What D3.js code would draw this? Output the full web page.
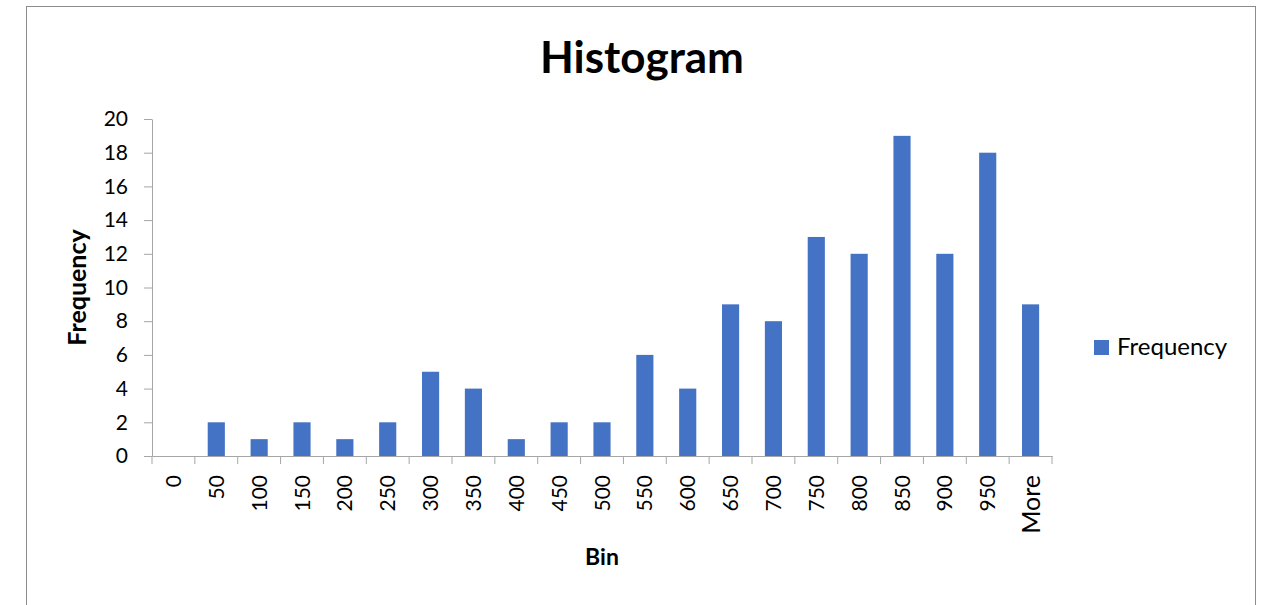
<!DOCTYPE html>
<html><head><meta charset="utf-8">
<script src="https://cdn.jsdelivr.net/npm/d3@7"></script>
<style>html,body{margin:0;padding:0;background:#fff;}</style>
</head><body>
<svg id="c" width="1270" height="605"></svg>
<script>
const categories = ["0","50","100","150","200","250","300","350","400","450","500","550","600","650","700","750","800","850","900","950","More"];
const frequency = [0,2,1,2,1,2,5,4,1,2,2,6,4,9,8,13,12,19,12,18,9];
const yTicks = [0,2,4,6,8,10,12,14,16,18,20];
const seriesName = "Frequency";
const titleText = "Histogram";
const xTitle = "Bin";
const yTitle = "Frequency";

const FONT = "Lato, 'Open Sans', sans-serif";
const BAR = "#4472C4", AXIS = "#A6A6A6";
const svg = d3.select("#c");
svg.append("rect").attr("x",26.5).attr("y",6.5).attr("width",1229).attr("height",640)
  .attr("fill","#fff").attr("stroke","#8C8C8C").attr("stroke-width",1);

const L=152, R=1052, T=119, B=456;
const x = d3.scaleBand().domain(categories).range([L,R]).paddingInner(0.6).paddingOuter(0.3);
const y = d3.scaleLinear().domain([0,20]).range([B,T]);

svg.append("text").attr("x",642).attr("y",73).attr("text-anchor","middle")
  .attr("font-family",FONT).attr("font-weight","bold").attr("font-size",44).text(titleText);

// bars
svg.append("g").selectAll("rect").data(frequency).join("rect")
  .attr("x",(d,i)=>x(categories[i])).attr("width",x.bandwidth())
  .attr("y",d=>y(d)).attr("height",d=>B-y(d)).attr("fill",BAR);

// y axis
const ya = svg.append("g").attr("transform",`translate(${L},0)`)
  .call(d3.axisLeft(y).tickValues(yTicks).tickSize(8).tickPadding(16).tickSizeOuter(0));
ya.select(".domain").attr("stroke",AXIS);
ya.selectAll(".tick line").attr("stroke",AXIS);
ya.selectAll(".tick text").attr("font-family",FONT).attr("font-size",21).attr("fill","#000");

// x axis
const xa = svg.append("g").attr("transform",`translate(0,${B})`)
  .call(d3.axisBottom(x).tickSize(0).tickSizeOuter(0).tickPadding(0));
xa.select(".domain").attr("stroke",AXIS);
xa.selectAll(".tick text").attr("font-family",FONT)
  .attr("font-size",d=>isNaN(+d)?25:21).attr("fill","#000")
  .attr("text-anchor","end").attr("transform","rotate(-90)")
  .attr("x",-19).attr("y",0).attr("dy","0.36em");
const step = x.step();
xa.selectAll("line.bound").data(d3.range(categories.length+1)).join("line")
  .attr("class","bound").attr("x1",i=>L+i*step).attr("x2",i=>L+i*step)
  .attr("y1",0).attr("y2",8).attr("stroke",AXIS);

// axis titles
svg.append("text").attr("x",602).attr("y",565).attr("text-anchor","middle")
  .attr("font-family",FONT).attr("font-weight","bold").attr("font-size",23).text(xTitle);
svg.append("text").attr("transform",`translate(86,${(T+B)/2}) rotate(-90)`).attr("text-anchor","middle")
  .attr("font-family",FONT).attr("font-weight","bold").attr("font-size",25).text(yTitle);

// legend
svg.append("rect").attr("x",1094).attr("y",340).attr("width",15).attr("height",15).attr("fill",BAR);
svg.append("text").attr("x",1117).attr("y",355).attr("font-family",FONT).attr("font-size",24).text(seriesName);
</script>
</body></html>
